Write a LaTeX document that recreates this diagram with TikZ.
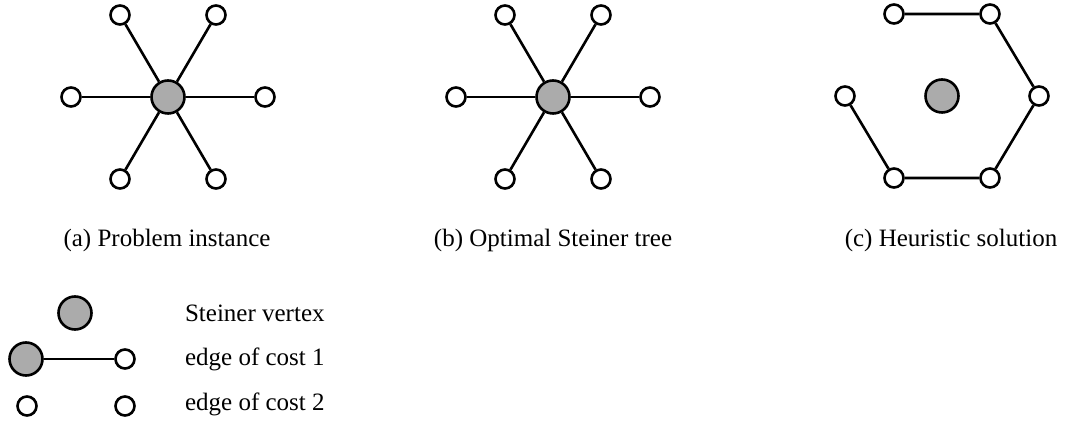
\documentclass[tikz,border=0pt]{standalone}
\usepackage{fontspec}
\setmainfont{Liberation Serif}
\begin{document}
\begin{tikzpicture}[x=0.5pt,y=-0.5pt,
  term/.style={circle,draw=black,line width=1.3pt,fill=white,minimum size=9.5pt,inner sep=0pt},
  stein/.style={circle,draw=black,line width=1.3pt,fill=black!33,minimum size=16.5pt,inner sep=0pt},
  edge/.style={line width=1.3pt},
  lab/.style={font=\fontsize{12.5}{15}\selectfont},
  leg/.style={font=\fontsize{12.5}{15}\selectfont,anchor=west}]
\useasboundingbox (0,0) rectangle (1075,421);
\foreach \p/\cx/\cy in {a/168/97, b/553/97, c/942/96}{
  \node[stein] (\p s) at (\cx,\cy) {};
  \node[term] (\p 1) at ({\cx-48},{\cy-82}) {};
  \node[term] (\p 2) at ({\cx+48},{\cy-82}) {};
  \node[term] (\p 3) at ({\cx+97},{\cy}) {};
  \node[term] (\p 4) at ({\cx+48},{\cy+82}) {};
  \node[term] (\p 5) at ({\cx-48},{\cy+82}) {};
  \node[term] (\p 6) at ({\cx-97},{\cy}) {};
}
\foreach \i in {1,...,6}{
  \draw[edge] (as) -- (a\i);
  \draw[edge] (bs) -- (b\i);
}
\draw[edge] (c1) -- (c2) -- (c3) -- (c4) -- (c5) -- (c6);
\node[lab] (la) at (167,240) {(a) Problem instance};
\node[lab] (lb) at (553,240) {(b) Optimal Steiner tree};
\node[lab] (lc) at (951,240) {(c) Heuristic solution};
% legend
\node[stein] (ls) at (75,313) {};
\node[stein] (l1a) at (26,359) {};
\node[term] (l1b) at (125,359) {};
\draw[edge] (l1a) -- (l1b);
\node[term] (l2a) at (27,406) {};
\node[term] (l2b) at (125,406) {};
\node[leg] (t0) at (178,313) {Steiner vertex};
\node[leg] (t1) at (178,359) {edge of cost 1};
\node[leg] (t2) at (178,404) {edge of cost 2};
\end{tikzpicture}
\end{document}
